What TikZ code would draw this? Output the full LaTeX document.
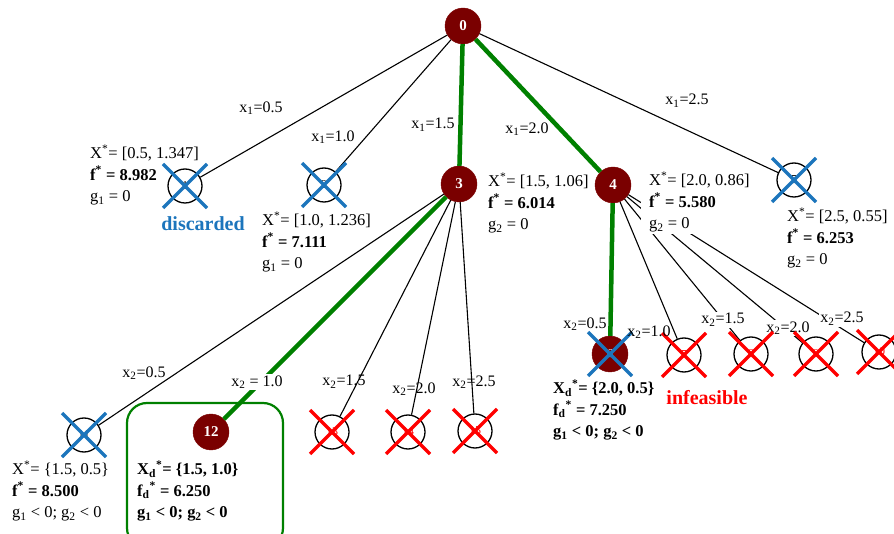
\documentclass[tikz,border=0pt]{standalone}
\usepackage{fontspec}
\setmainfont{Liberation Serif}
\usetikzlibrary{calc}
\definecolor{nodered}{RGB}{122,0,0}
\definecolor{pathgreen}{RGB}{0,128,0}
\definecolor{xblue}{RGB}{28,117,188}
\definecolor{xred}{RGB}{255,0,0}
\tikzset{
  filled/.style={circle, fill=nodered, draw=nodered, minimum size=36pt, inner sep=0pt, text=white, font=\fontsize{15}{15}\selectfont\bfseries},
  opennode/.style={circle, fill=white, draw=black, line width=1.3pt, minimum size=34pt, inner sep=0pt, font=\fontsize{12}{12}\selectfont},
  thinedge/.style={line width=1.1pt, black},
  bestedge/.style={line width=4.5pt, pathgreen},
  elabel/.style={font=\fontsize{16}{16}\selectfont, inner sep=1pt},
  elabelw/.style={elabel, fill=white},
  info/.style={anchor=west, align=left, inner xsep=3pt, inner ysep=2pt, font=\fontsize{16.5}{21.5}\selectfont},
  bluex/.style={line width=3.5pt, xblue},
  redx/.style={line width=3.5pt, xred},
  bestbox/.style={draw=pathgreen, line width=2.2pt, rounded corners=20pt},
}
\newcommand\crossout[2]{%
  \draw[#2] ($(#1)+(-22,-22)$) -- ($(#1)+(22,22)$);
  \draw[#2] ($(#1)+(-22,22)$) -- ($(#1)+(22,-22)$);}
\begin{document}
\begin{tikzpicture}[x=1pt,y=-1pt]
\useasboundingbox (0,0) rectangle (894,534);
% green box around node 12
\draw[bestbox] (127,403) rectangle (283,548);
% nodes
\node[filled] (n0) at (463,26) {0};
\node[opennode] (n1) at (185,186) {1};
\node[opennode] (n2) at (324,185) {2};
\node[filled] (n3) at (459,184) {3};
\node[filled] (n4) at (613,185) {4};
\node[opennode] (n5) at (794,180) {5};
\node[opennode] (n11) at (84,435) {11};
\node[filled] (n12) at (211,432) {12};
\node[opennode, text=xred] (n13) at (332,432) {13};
\node[opennode, text=xred] (n14) at (408,432) {14};
\node[opennode, text=xred] (n15) at (475,431) {15};
\node[filled, font=\fontsize{12}{12}\selectfont] (n6) at (610,354) {6};
\node[opennode, text=xred] (n7) at (684,355) {7};
\node[opennode, text=xred] (n8) at (751,354) {8};
\node[opennode, text=xred] (n9) at (816,354) {9};
\node[opennode, text=xred] (n10) at (879,352) {10};
% edges
\draw[thinedge] (n0) -- (n1);
\draw[thinedge] (n0) -- (n2);
\draw[bestedge] (n0) -- (n3);
\draw[bestedge] (n0) -- (n4);
\draw[thinedge] (n0) -- (n5);
\draw[thinedge] (n3) -- (n11);
\draw[bestedge] (n3) -- (n12);
\draw[thinedge] (n3) -- (n13);
\draw[thinedge] (n3) -- (n14);
\draw[thinedge] (n3) -- (n15);
\draw[bestedge] (n4) -- (n6);
\draw[thinedge] (n4) -- (n7);
\draw[thinedge] (n4) -- (n8);
\draw[thinedge] (n4) -- (n9);
\draw[thinedge] (n4) -- (n10);
% edge labels
\node[elabel] (l1) at (261,108) {x\textsubscript{1}=0.5};
\node[elabel] (l2) at (333,137) {x\textsubscript{1}=1.0};
\node[elabel] (l3) at (433,125) {x\textsubscript{1}=1.5};
\node[elabel] (l4) at (527,129) {x\textsubscript{1}=2.0};
\node[elabel] (l5) at (687,101) {x\textsubscript{1}=2.5};
\node[elabel] (l11) at (144,373) {x\textsubscript{2}=0.5};
\node[elabelw] (l12) at (257,382) {x\textsubscript{2} = 1.0};
\node[elabel] (l13) at (344,382) {x\textsubscript{2}=1.5};
\node[elabel] (l14) at (414,389) {x\textsubscript{2}=2.0};
\node[elabel] (l15) at (474,382) {x\textsubscript{2}=2.5};
\node[elabel] (l6) at (585,324) {x\textsubscript{2}=0.5};
\node[elabelw] (l8) at (723,320) {x\textsubscript{2}=1.5};
\node[elabelw] (l9) at (788,328) {x\textsubscript{2}=2.0};
\node[elabelw] (l10) at (842,319) {x\textsubscript{2}=2.5};
% info boxes
\node[info] (i1) at (87,175) {X\textsuperscript{*}= [0.5, 1.347]\\\textbf{f\textsuperscript{*} = 8.982}\\g\textsubscript{1} = 0};
\node[info] (i2) at (259,242) {X\textsuperscript{*}= [1.0, 1.236]\\\textbf{f\textsuperscript{*} = 7.111}\\g\textsubscript{1} = 0};
\node[info] (i3) at (485,203) {X\textsuperscript{*}= [1.5, 1.06]\\\textbf{f\textsuperscript{*} = 6.014}\\g\textsubscript{2} = 0};
\node[info, fill=white, inner xsep=8pt] (i4) at (641,202) {X\textsuperscript{*}= [2.0, 0.86]\\\textbf{f\textsuperscript{*} = 5.580}\\g\textsubscript{2} = 0};
\node[info] (i5) at (784,238) {X\textsuperscript{*}= [2.5, 0.55]\\\textbf{f\textsuperscript{*} = 6.253}\\g\textsubscript{2} = 0};
\node[info] (i11) at (9,491) {X\textsuperscript{*}= \{1.5, 0.5\}\\\textbf{f\textsuperscript{*} = 8.500}\\g\textsubscript{1} < 0; g\textsubscript{2} < 0};
\node[info] (i12) at (134,491) {\textbf{X\textsubscript{d}\textsuperscript{*}= \{1.5, 1.0\}}\\\textbf{f\textsubscript{d}\textsuperscript{*} = 6.250}\\\textbf{g\textsubscript{1} < 0; g\textsubscript{2} < 0}};
\node[info] (i6) at (550,410) {\textbf{X\textsubscript{d}\textsuperscript{*}= \{2.0, 0.5\}}\\\textbf{f\textsubscript{d}\textsuperscript{*} = 7.250}\\\textbf{g\textsubscript{1} < 0; g\textsubscript{2} < 0}};
% crosses
\crossout{n1}{bluex}
\crossout{n2}{bluex}
\crossout{n5}{bluex}
\crossout{n11}{bluex}
\crossout{n6}{bluex}
\crossout{n13}{redx}
\crossout{n14}{redx}
\crossout{n15}{redx}
\crossout{n7}{redx}
\crossout{n8}{redx}
\crossout{n9}{redx}
\crossout{n10}{redx}
\node[elabel] (l7) at (649,332) {x\textsubscript{2}=1.0};
% annotations
\node[font=\fontsize{20}{20}\selectfont\bfseries, text=xblue] (disc) at (203,224) {discarded};
\node[font=\fontsize{20}{20}\selectfont\bfseries, text=xred] (infeas) at (707,398) {infeasible};
\end{tikzpicture}
\end{document}
